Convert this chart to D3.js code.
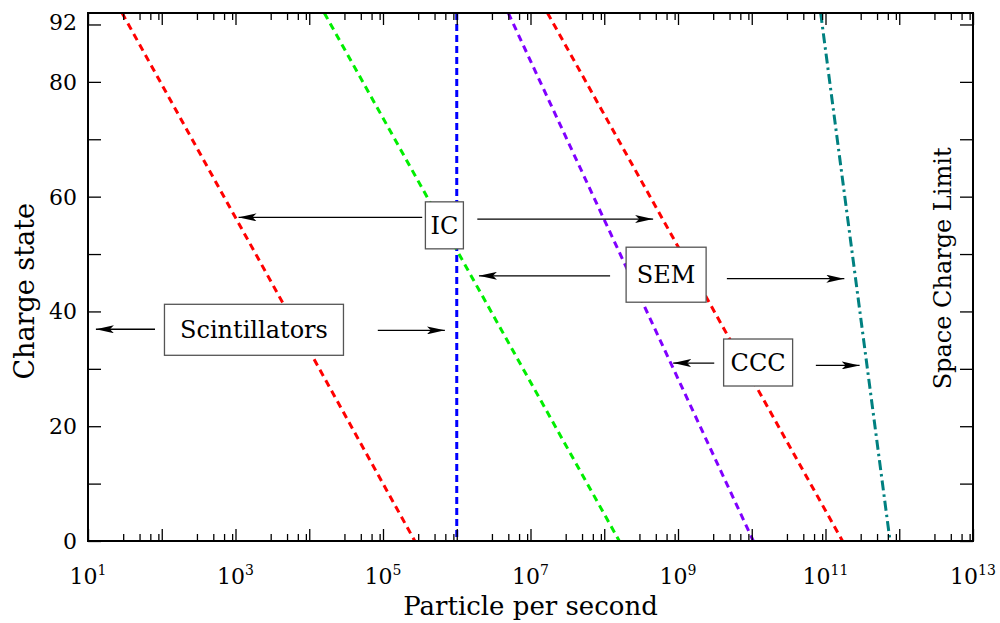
<!DOCTYPE html>
<html>
<head>
<meta charset="utf-8">
<script src="https://cdn.jsdelivr.net/npm/d3@7"></script>
<style>
    body { margin: 0; background: #fff; }
    svg { display: block; }
</style>
</head>
<body>
<div id="chart"></div>
<script>
// Limits: particle rate (pps) at charge state 92 and at 0
const limitNames = ['scint', 'ic', 'icSlope', 'sem', 'ccc', 'space'];
const limitColors = ['#ff0000', '#0000ff', '#00ee00', '#8000ff', '#ff0000', '#008080'];
const limitTop = [29, 1e6, 1.6e4, 5e6, 1.7e7, 8.6e10];
const limitBottom = [2.7e5, 1e6, 1.6e8, 1.05e10, 1.7e11, 7.5e11];
const limitDash = ['7,5', '7,4', '7,5', '7,5', '7,5', '10,4,2.5,4'];

// Labelled boxes with their double arrows (pps, charge state)
const boxLabels = ['Scintillators', 'IC', 'SEM', 'CCC'];
const boxCenters = [[1.78e3, 36.8], [6.8e5, 55.0], [6.9e8, 46.4], [1.22e10, 31.1]];
const arrowLeftTip = [[1.28e1, 36.9], [1.1e3, 56.4], [2.0e6, 46.2], [8.6e8, 31.0]];
const arrowLeftTail = [[8.1e1, 36.9], [3.4e5, 56.4], [1.2e8, 46.2], [3.1e9, 31.0]];
const arrowRightTail = [[8.5e4, 36.7], [1.9e6, 56.1], [4.6e9, 45.7], [7.4e10, 30.6]];
const arrowRightTip = [[6.9e5, 36.7], [4.6e8, 56.1], [1.8e11, 45.7], [2.9e11, 30.6]];

const xExponents = d3.range(1, 14);
const xLabelExponents = [1, 3, 5, 7, 9, 11, 13];
const xMinorMult = [3, 5, 7, 9];
const yTicks = d3.range(0, 91, 10);
const yLabelTicks = [0, 20, 40, 60, 80, 90];
const yLabels = ['0', '20', '40', '60', '80', '92'];

const W = 1000, H = 623;
const m = { left: 88, right: 27, top: 13, bottom: 82 };
const font = 'DejaVu Serif, serif';
const boxW = [179, 38, 80, 69];
const boxH = [51, 47, 55, 47];

const svg = d3.select('#chart').append('svg')
    .attr('width', W)
    .attr('height', H)
    .attr('font-family', font);

const x = d3.scaleLog()
    .domain([1e1, 1e13])
    .range([m.left, W - m.right]);
const y = d3.scaleLinear()
    .domain([0, 92])
    .range([H - m.bottom, m.top]);

// Limit lines
const lineGen = d3.line().x(d => x(d[0])).y(d => y(d[1]));
limitNames.forEach((n, i) => {
    svg.append('path')
        .attr('d', lineGen([[limitTop[i], 92], [limitBottom[i], 0]]))
        .attr('fill', 'none')
        .attr('stroke', limitColors[i])
        .attr('stroke-width', 3)
        .attr('stroke-dasharray', limitDash[i]);
});

// Axes with inward ticks
const majors = xExponents.map(e => Math.pow(10, e));
const minors = [];
xExponents.slice(0, -1).forEach(e => xMinorMult.forEach(k => minors.push(k * Math.pow(10, e))));

function styleAxis(g) {
    g.select('.domain').remove();
    g.selectAll('line').attr('stroke', '#000').attr('stroke-width', 1.3);
}
const plotH = H - m.bottom - m.top;
const plotW = W - m.left - m.right;

svg.append('g').attr('transform', `translate(0,${H - m.bottom})`)
    .call(d3.axisBottom(x).tickValues(majors).tickSize(-12).tickFormat('')).call(styleAxis);
svg.append('g').attr('transform', `translate(0,${H - m.bottom})`)
    .call(d3.axisBottom(x).tickValues(minors).tickSize(-7).tickFormat('')).call(styleAxis);
svg.append('g').attr('transform', `translate(0,${m.top})`)
    .call(d3.axisTop(x).tickValues(majors).tickSize(-12).tickFormat('')).call(styleAxis);
svg.append('g').attr('transform', `translate(0,${m.top})`)
    .call(d3.axisTop(x).tickValues(minors).tickSize(-7).tickFormat('')).call(styleAxis);
svg.append('g').attr('transform', `translate(${m.left},0)`)
    .call(d3.axisLeft(y).tickValues(yTicks).tickSize(-13).tickFormat('')).call(styleAxis);
svg.append('g').attr('transform', `translate(${W - m.right},0)`)
    .call(d3.axisRight(y).tickValues(yTicks).tickSize(-13).tickFormat('')).call(styleAxis);

svg.append('rect')
    .attr('x', m.left).attr('y', m.top)
    .attr('width', plotW).attr('height', plotH)
    .attr('fill', 'none').attr('stroke', '#000').attr('stroke-width', 2);

// Tick labels
yLabelTicks.forEach((v, i) => {
    svg.append('text')
        .attr('x', m.left - 11)
        .attr('y', y(v) + (v === 90 ? -2 : 0))
        .attr('dy', '0.36em')
        .attr('text-anchor', 'end')
        .attr('font-size', 22)
        .text(yLabels[i]);
});
xLabelExponents.forEach(e => {
    const t = svg.append('text')
        .attr('x', x(Math.pow(10, e)))
        .attr('y', H - m.bottom + 43)
        .attr('text-anchor', 'middle')
        .attr('font-size', 22);
    t.append('tspan').text('10');
    t.append('tspan').attr('dy', -9).attr('font-size', 14).text(e);
});

// Axis titles
svg.append('text')
    .attr('x', (m.left + W - m.right) / 2)
    .attr('y', H - 8)
    .attr('text-anchor', 'middle')
    .attr('font-size', 26)
    .text('Particle per second');
svg.append('text')
    .attr('transform', `translate(34,${y(43.5)}) rotate(-90)`)
    .attr('text-anchor', 'middle')
    .attr('font-size', 27)
    .text('Charge state');
svg.append('text')
    .attr('transform', `translate(951,${y(47.5)}) rotate(-90)`)
    .attr('text-anchor', 'middle')
    .attr('font-size', 24)
    .text('Space Charge Limit');

// Arrows and boxes
svg.append('defs').append('marker')
    .attr('id', 'head')
    .attr('viewBox', '0 0 18 8')
    .attr('refX', 18).attr('refY', 4)
    .attr('markerWidth', 18).attr('markerHeight', 8)
    .attr('markerUnits', 'userSpaceOnUse')
    .attr('orient', 'auto')
    .append('path').attr('d', 'M0,0L18,4L0,8L4,4Z').attr('fill', '#000');

function arrow(from, to) {
    svg.append('line')
        .attr('x1', x(from[0])).attr('y1', y(from[1]))
        .attr('x2', x(to[0])).attr('y2', y(to[1]))
        .attr('stroke', '#000').attr('stroke-width', 1.3)
        .attr('marker-end', 'url(#head)');
}

boxLabels.forEach((label, i) => {
    arrow(arrowLeftTail[i], arrowLeftTip[i]);
    arrow(arrowRightTail[i], arrowRightTip[i]);
    const cx = x(boxCenters[i][0]);
    const cy = y(boxCenters[i][1]);
    svg.append('rect')
        .attr('x', cx - boxW[i] / 2).attr('y', cy - boxH[i] / 2)
        .attr('width', boxW[i]).attr('height', boxH[i])
        .attr('fill', '#fff').attr('stroke', '#555').attr('stroke-width', 1.3);
    svg.append('text')
        .attr('x', cx)
        .attr('y', cy)
        .attr('dy', '0.36em')
        .attr('text-anchor', 'middle')
        .attr('font-size', 24)
        .text(label);
});
</script>
</body>
</html>
